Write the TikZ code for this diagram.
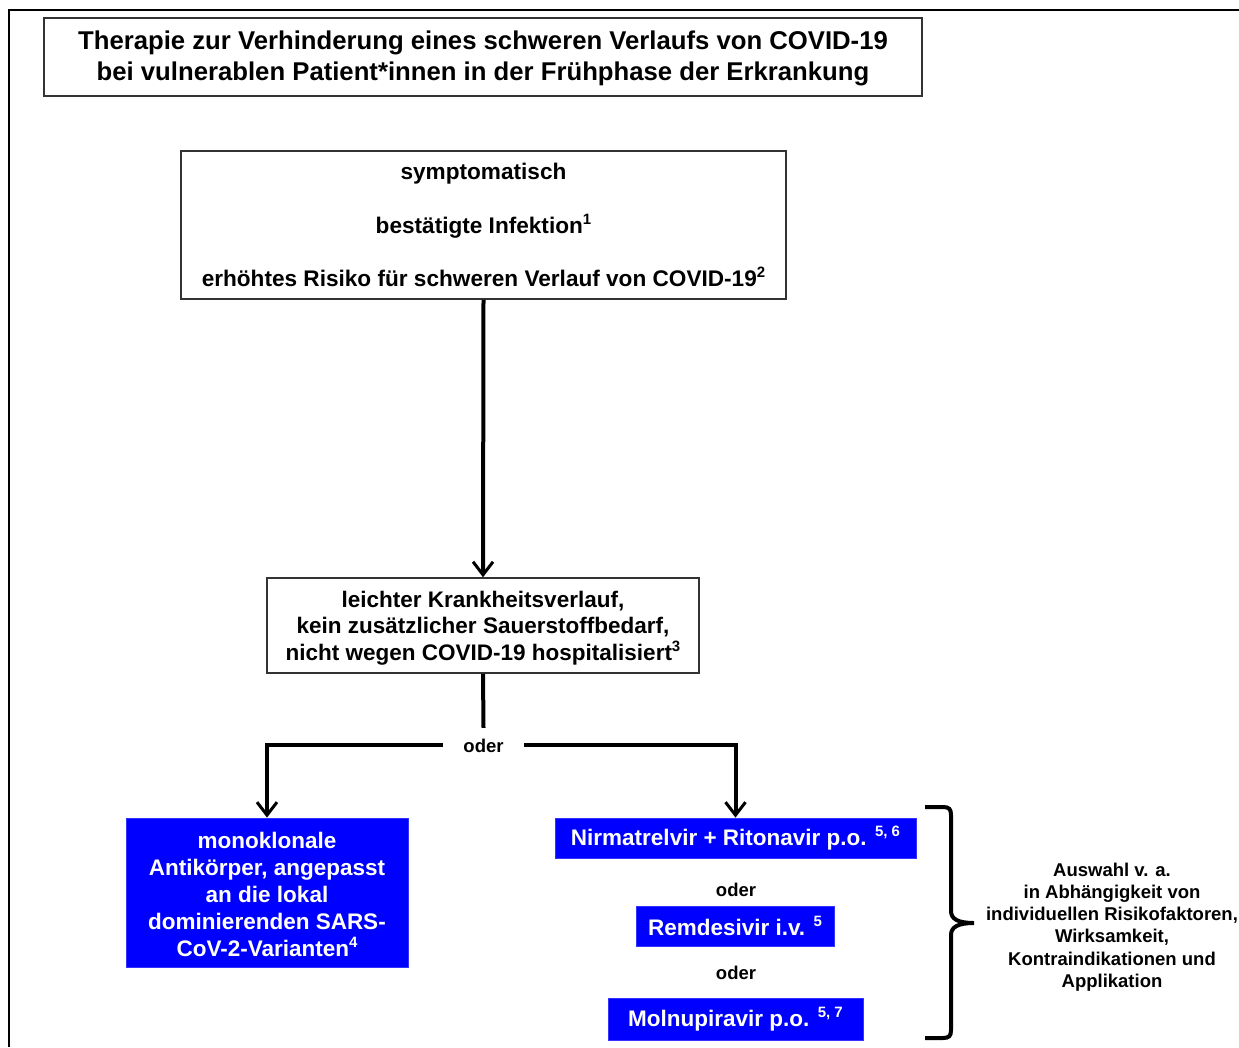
\documentclass[tikz,border=0pt]{standalone}
\usepackage{fontspec}
\setmainfont{Liberation Sans}
\usetikzlibrary{arrows.meta}
\definecolor{boxline}{HTML}{333333}
\definecolor{pureblue}{HTML}{0000FF}
\tikzset{
  plainbox/.style={draw=boxline, line width=1.5pt, fill=white, align=center, inner sep=0pt, font=\bfseries\fontsize{22.5}{27}\selectfont},
  bluebox/.style={draw=pureblue!80!white, line width=0.8pt, fill=pureblue, text=white, align=center, inner sep=0pt, font=\bfseries\fontsize{22.5}{27}\selectfont},
  odertext/.style={fill=white, inner sep=0pt, font=\bfseries\fontsize{18.5}{22}\selectfont},
  conn/.style={line width=4pt, -{Straight Barb[length=13pt,width=20pt,line width=3pt]}},
  connline/.style={line width=4pt},
  frameline/.style={line width=1.5pt, black},
}
\newcommand{\lowsup}[1]{\raisebox{0.4em}{\fontsize{15}{15}\selectfont #1}}
\begin{document}
\begin{tikzpicture}[x=1pt,y=-1pt]
\useasboundingbox (0,0) rectangle (1239,1047);
\fill[white] (0,0) rectangle (1239,1047);
% frame
\draw[frameline] (1239,10) -- (9,10) -- (9,1047);
% title
\node[plainbox, minimum width=878pt, minimum height=78pt, font=\bfseries\fontsize{25.7}{31}\selectfont] (title) at (483,57)
  {\rule{0pt}{22pt}Therapie zur Verhinderung eines schweren Verlaufs von COVID-19\\bei vulnerablen Patient*innen in der Frühphase der Erkrankung};
% box 2
\node[plainbox, minimum width=605pt, minimum height=148pt, font=\bfseries\fontsize{22.6}{53.5}\selectfont] (crit) at (483.5,225)
  {symptomatisch\\bestätigte Infektion\lowsup{1}\\erhöhtes Risiko für schweren Verlauf von COVID-19\lowsup{2}};
% box 3
\node[plainbox, minimum width=432pt, minimum height=95pt, font=\bfseries\fontsize{22.5}{26.5}\selectfont] (mild) at (483,625.5)
  {\rule{0pt}{21pt}leichter Krankheitsverlauf,\\kein zusätzlicher Sauerstoffbedarf,\\nicht wegen COVID-19 hospitalisiert\lowsup{3}};
% oder junction
\node[odertext, minimum width=81pt, minimum height=34pt] (oder1) at (483.5,745) {\rule{0pt}{16pt}oder};
% left blue
\node[bluebox, minimum width=282pt, minimum height=149pt] (mono) at (267,892.5)
  {\rule{0pt}{20pt}monoklonale\\Antikörper, angepasst\\an die lokal\\dominierenden SARS-\\CoV-2-Varianten\lowsup{4}};
% right blues
\node[bluebox, minimum width=361pt, minimum height=40pt] (nirm) at (735.5,838)
  {\rule{0pt}{20pt}Nirmatrelvir + Ritonavir p.o. \lowsup{5, 6}};
\node[odertext] (oder2) at (736,889) {\rule{0pt}{16pt}oder};
\node[bluebox, minimum width=198pt, minimum height=40pt] (remd) at (735,926)
  {\rule{0pt}{20pt}Remdesivir i.v. \lowsup{5}};
\node[odertext] (oder3) at (736,972) {\rule{0pt}{16pt}oder};
\node[bluebox, minimum width=255pt, minimum height=42pt] (moln) at (735.5,1019)
  {\rule{0pt}{20pt}Molnupiravir p.o. \lowsup{5, 7}};
% side text
\node[align=center, font=\bfseries\fontsize{18.5}{22.2}\selectfont] (note) at (1112,927)
  {Auswahl v. a.\\in Abhängigkeit von\\individuellen Risikofaktoren,\\Wirksamkeit,\\Kontraindikationen und\\Applikation};
% connectors
\draw[conn] (crit.south) -- (mild.north);
\draw[connline] (mild.south) -- (oder1.north);
\draw[conn] (oder1.west) -| (mono.north);
\draw[conn] (oder1.east) -| (nirm.north);
% brace
\coordinate (bracetip) at (974,923);
\draw[line width=4pt, line cap=butt] (925,807) -- (943,807)
  .. controls (949,807) and (951,809) .. (951,815) -- (951,911)
  .. controls (951,919) and (958,923) .. (bracetip)
  .. controls (958,923) and (951,927) .. (951,935) -- (951,1030)
  .. controls (951,1036) and (949,1038) .. (943,1038) -- (925,1038);
\end{tikzpicture}
\end{document}
